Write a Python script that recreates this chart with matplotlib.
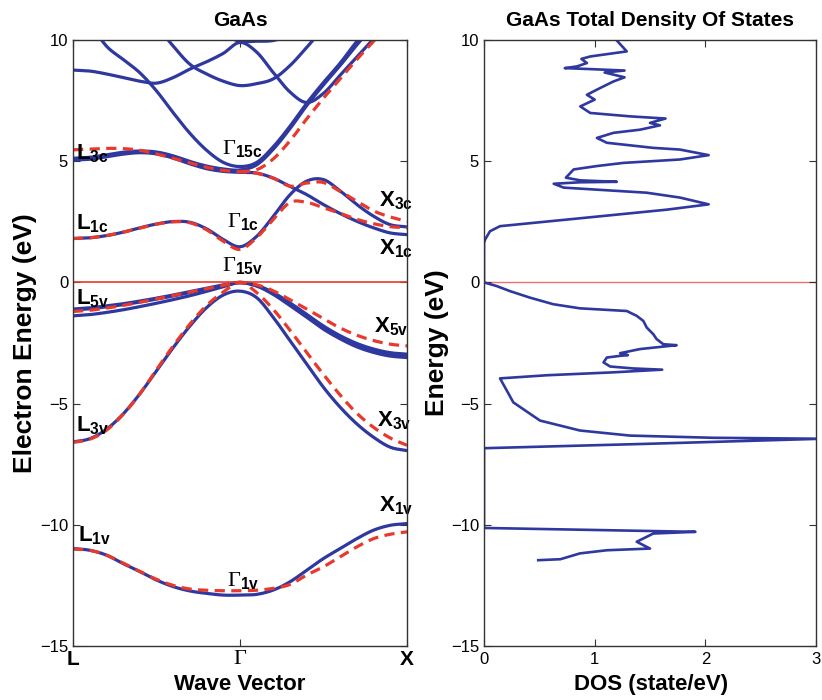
import numpy as np
import matplotlib
matplotlib.use("Agg")
import matplotlib.pyplot as plt

plt.rcParams['font.family'] = ['Liberation Sans', 'DejaVu Sans']
plt.rcParams['mathtext.fontset'] = 'custom'
plt.rcParams['mathtext.rm'] = 'Liberation Serif'
plt.rcParams['mathtext.bf'] = 'Liberation Sans:bold'
plt.rcParams['mathtext.it'] = 'Liberation Sans:italic'

nan = np.nan

# ---------------- band structure data (k: L=0, Gamma=1, X=2) ----------------
k_path = [0.0, 0.1, 0.2, 0.3, 0.4, 0.5, 0.6, 0.7, 0.8, 0.9, 1.0,
          1.1, 1.2, 1.3, 1.4, 1.5, 1.6, 1.7, 1.8, 1.9, 2.0]
k_ticks = [0.0, 1.0, 2.0]
k_tick_labels = ['L', 'Γ', 'X']

# blue (solid) bands
blue_v1 = [-10.98, -11.05, -11.25, -11.6, -11.93, -12.28, -12.55, -12.73, -12.83, -12.9, -12.9,
           -12.87, -12.69, -12.35, -11.87, -11.39, -10.98, -10.57, -10.22, -10.02, -9.95]
blue_v2 = [-6.58, -6.45, -6.06, -5.43, -4.6, -3.65, -2.69, -1.8, -1.04, -0.52, -0.36,
           -0.63, -1.45, -2.41, -3.37, -4.33, -5.15, -5.84, -6.39, -6.8, -6.94]
blue_v3 = [-1.1, -1.05, -0.97, -0.88, -0.77, -0.65, -0.52, -0.38, -0.24, -0.1, 0.0,
           -0.12, -0.42, -0.85, -1.32, -1.8, -2.2, -2.52, -2.75, -2.9, -2.96]
blue_v4 = [-1.14, -1.09, -1.01, -0.92, -0.81, -0.69, -0.56, -0.42, -0.28, -0.13, -0.02,
           -0.14, -0.46, -0.9, -1.37, -1.86, -2.26, -2.59, -2.82, -2.97, -3.03]
blue_v5 = [-1.38, -1.33, -1.24, -1.13, -1.0, -0.86, -0.71, -0.55, -0.37, -0.18, 0.0,
           -0.15, -0.5, -0.96, -1.44, -1.93, -2.33, -2.66, -2.89, -3.04, -3.1]
blue_c1 = [1.81, 1.84, 1.93, 2.07, 2.25, 2.41, 2.51, 2.48, 2.21, 1.77, 1.47,
           1.9, 2.73, 3.62, 4.18, 4.24, 3.77, 3.21, 2.73, 2.38, 2.29]
blue_c2 = [5.04, 5.08, 5.18, 5.29, 5.35, 5.3, 5.13, 4.89, 4.69, 4.58, 4.54,
           4.51, 4.3, 3.96, 3.62, 3.21, 2.84, 2.52, 2.25, 2.04, 1.97]
blue_c3 = [5.12, 5.16, 5.26, 5.37, 5.42, 5.38, 5.22, 4.99, 4.8, 4.68, 4.64,
           4.85, 5.5, 6.35, 7.3, 8.15, 8.95, 9.8, 10.6, nan, nan]
blue_c4 = [nan, 10.7, 9.75, 9.2, 8.65, 7.9, 7.0, 6.15, 5.45, 4.95, 4.78,
           4.95, 5.6, 6.45, 7.4, 8.25, 9.05, 9.95, 10.8, nan, nan]
blue_c5 = [8.76, 8.72, 8.6, 8.45, 8.3, 8.22, 8.45, 8.8, 9.1, 9.45, 9.9,
           9.5, 8.65, 7.85, 7.42, 7.8, 8.55, 9.3, 10.05, 10.8, nan]
blue_c6 = [nan, nan, nan, nan, nan, 10.6, 9.75, 9.0, 8.6, 8.3, 8.12,
           8.2, 8.4, 8.95, 9.7, 10.5, nan, nan, nan, nan, nan]
blue_c7 = [nan, nan, nan, nan, nan, nan, nan, nan, nan, 10.2, 9.95,
           9.95, 9.98, 10.2, nan, nan, nan, nan, nan, nan, nan]

# red (dashed) bands
red_v1 = [-11.0, -11.05, -11.25, -11.58, -11.92, -12.25, -12.5, -12.65, -12.7, -12.72, -12.72,
          -12.7, -12.62, -12.46, -12.07, -11.73, -11.32, -10.91, -10.57, -10.39, -10.29]
red_v2 = [-6.6, -6.47, -6.1, -5.45, -4.6, -3.6, -2.62, -1.72, -0.95, -0.4, 0.0,
          -0.42, -1.12, -1.98, -2.9, -3.8, -4.65, -5.4, -5.98, -6.42, -6.72]
red_v3 = [-1.2, -1.15, -1.06, -0.95, -0.82, -0.68, -0.54, -0.4, -0.26, -0.12, 0.0,
          -0.1, -0.35, -0.72, -1.1, -1.5, -1.88, -2.18, -2.4, -2.55, -2.62]
red_c1 = [1.81, 1.84, 1.93, 2.07, 2.24, 2.4, 2.5, 2.46, 2.17, 1.7, 1.36,
          1.85, 2.6, 3.3, 3.3, 3.08, 2.85, 2.6, 2.42, 2.3, 2.25]
red_c2 = [5.47, 5.5, 5.53, 5.52, 5.45, 5.3, 5.12, 4.93, 4.75, 4.62, 4.57,
          4.5, 4.3, 3.97, 4.1, 4.12, 3.75, 3.35, 2.95, 2.7, 2.52]
red_c3 = [nan, nan, nan, nan, nan, nan, nan, nan, nan, nan, 4.57,
          4.65, 5.1, 5.85, 6.75, 7.6, 8.4, 9.2, 9.95, 10.7, nan]

blue_bands = [blue_v1, blue_v2, blue_v3, blue_v4, blue_v5, blue_c1, blue_c2,
              blue_c3, blue_c4, blue_c5, blue_c6, blue_c7]
red_bands = [red_v1, red_v2, red_v3, red_c1, red_c2, red_c3]

# symmetry point labels: (main, subscript, k, E)
point_labels = [
    ('L', '3c', 0.02, 5.06), ('L', '1c', 0.02, 2.18), ('L', '5v', 0.02, -0.9),
    ('L', '3v', 0.02, -6.13), ('L', '1v', 0.03, -10.69),
    ('Γ', '15c', 0.89, 5.26), ('Γ', '1c', 0.92, 2.26), ('Γ', '15v', 0.89, 0.45),
    ('Γ', '1v', 0.92, -12.54),
    ('X', '3c', 1.83, 3.13), ('X', '1c', 1.83, 1.15), ('X', '5v', 1.80, -2.06),
    ('X', '3v', 1.82, -5.92), ('X', '1v', 1.83, -9.46),
]

# ---------------- density of states data ----------------
dos_val = [1.20, 1.29, 0.96, 0.88, 0.93, 0.84, 0.73, 0.96, 1.27, 1.09, 1.27, 1.17, 1.05, 0.93,
           1.0, 0.87, 0.96, 1.32, 1.64, 1.5, 1.59, 1.41, 1.17, 1.02, 1.11, 1.53, 1.77, 2.03,
           1.77, 1.26, 1.02, 0.81, 0.74, 0.87, 1.2, 0.87, 0.63, 0.72, 1.47, 1.77, 2.03,
           1.65, 0.9, 0.145, 0.054, 0.01, 0.0, 0.0,
           0.114, 0.235, 0.416, 0.626, 0.867, 1.29, 1.38, 1.44, 1.47, 1.53, 1.56, 1.62, 1.74,
           1.41, 1.23, 1.30, 1.23, 1.11, 1.08, 1.14, 1.35, 1.61, 1.17, 0.57, 0.145,
           0.265, 0.506, 0.867, 1.32, 2.07, 3.05, 1.47, 0.0, 0.0,
           1.91, 1.53, 1.38, 1.50, 1.11, 0.867, 0.69, 0.49]
dos_E = [9.98, 9.53, 9.32, 9.22, 9.05, 8.91, 8.84, 8.8, 8.74, 8.66, 8.46, 8.29, 8.02, 7.74,
         7.54, 7.26, 6.99, 6.85, 6.76, 6.58, 6.48, 6.3, 6.17, 5.96, 5.76, 5.55, 5.48, 5.25,
         5.07, 4.93, 4.8, 4.66, 4.32, 4.21, 4.15, 4.13, 4.07, 3.91, 3.7, 3.5, 3.22,
         3.0, 2.66, 2.32, 2.11, 1.77, 1.63, 0.0,
         -0.15, -0.36, -0.63, -0.9, -1.07, -1.18, -1.38, -1.59, -1.86, -2.14, -2.34, -2.55, -2.59,
         -2.75, -2.92, -3.0, -3.03, -3.10, -3.30, -3.47, -3.55, -3.60, -3.71, -3.83, -3.96,
         -4.95, -5.70, -6.11, -6.32, -6.41, -6.45, -6.66, -6.84, -10.13,
         -10.29, -10.36, -10.7, -10.98, -11.05, -11.18, -11.42, -11.46]

BLUE = '#2f389f'
RED = '#e8392b'


def smooth_path(x, y, n=10):
    """Render a curve through the read points with a Catmull-Rom spline (drawing only)."""
    x = np.asarray(x, float)
    y = np.asarray(y, float)
    ok = np.isfinite(y)
    xs_out, ys_out = [], []
    i = 0
    while i < len(y):
        if not ok[i]:
            i += 1
            continue
        j = i
        while j < len(y) and ok[j]:
            j += 1
        px, py = x[i:j], y[i:j]
        if len(px) == 1:
            xs_out += [px[0], nan]
            ys_out += [py[0], nan]
        else:
            P = np.column_stack([px, py])
            P = np.vstack([2 * P[0] - P[1], P, 2 * P[-1] - P[-2]])
            t = np.linspace(0, 1, n, endpoint=False)
            for s in range(1, len(P) - 2):
                p0, p1, p2, p3 = P[s - 1], P[s], P[s + 1], P[s + 2]
                for tt in t:
                    c = 0.5 * ((2 * p1) + (-p0 + p2) * tt +
                               (2 * p0 - 5 * p1 + 4 * p2 - p3) * tt ** 2 +
                               (-p0 + 3 * p1 - 3 * p2 + p3) * tt ** 3)
                    xs_out.append(c[0])
                    ys_out.append(c[1])
            xs_out += [P[-2][0], nan]
            ys_out += [P[-2][1], nan]
        i = j
    return xs_out, ys_out


fig = plt.figure(figsize=(8.22, 7.0), dpi=100)
ax_bottom = 1 - 646 / 700
ax_height = 606 / 700
ax1 = fig.add_axes([73/822, ax_bottom, 334/822, ax_height])
ax2 = fig.add_axes([484/822, ax_bottom, 332/822, ax_height])

for ax in (ax1, ax2):
    ax.tick_params(direction='in', length=5, width=0.8, top=True, right=True,
                   color='#333333')
    ax.tick_params(axis='y', labelsize=12)
    ax.tick_params(axis='x', pad=3)
    for sp in ax.spines.values():
        sp.set_color('#333333')
        sp.set_linewidth(1.0)
        sp.set_zorder(6)
ax2.tick_params(axis='x', labelsize=12, pad=4)

# ---- band structure ----
for b in blue_bands:
    sx, sy = smooth_path(k_path, b)
    ax1.plot(sx, sy, color=BLUE, lw=2.3, solid_capstyle='round', zorder=2)
for b in red_bands:
    sx, sy = smooth_path(k_path, b)
    ax1.plot(sx, sy, color=RED, lw=2.3, linestyle=(0, (3.2, 2.0)), zorder=3)
ax1.axhline(0, color=RED, lw=1.2, zorder=4)

ax1.set_xlim(0, 2)
ax1.set_ylim(-15, 10)
ax1.set_yticks([-15, -10, -5, 0, 5, 10])
ax1.set_xticks(k_ticks)
xl = ax1.set_xticklabels(k_tick_labels, fontsize=15, fontweight='bold')
xl[1].set_family('Liberation Serif')
xl[1].set_fontweight('normal')
xl[1].set_fontsize(16)
ax1.set_title('GaAs', fontsize=15, fontweight='bold', pad=10)
ax1.set_ylabel('Electron Energy (eV)', fontsize=19, fontweight='bold')
ax1.yaxis.set_label_coords(-0.108, 0.5)
ax1.set_xlabel('Wave Vector', fontsize=16, fontweight='bold')
ax1.xaxis.set_label_coords(0.5, -0.046)

for main, sub, kx, ey in point_labels:
    if main == 'Γ':
        s = r'$\mathrm{\Gamma}_{\mathbf{%s}}$' % sub
    else:
        s = r'$\mathbf{%s}_{\mathbf{%s}}$' % (main, sub)
    ax1.text(kx, ey, s, fontsize=16, ha='left', va='baseline', zorder=5)

# ---- DOS ----
ax2.plot(dos_val, dos_E, color=BLUE, lw=1.9, zorder=2)
ax2.axhline(0, color='#f07070', lw=1.0, zorder=1)
ax2.set_xlim(0, 3)
ax2.set_ylim(-15, 10)
ax2.set_xticks([0, 1, 2, 3])
ax2.set_yticks([-15, -10, -5, 0, 5, 10])
ax2.set_title('GaAs Total Density Of States', fontsize=15, fontweight='bold', pad=10)
ax2.set_ylabel('Energy (eV)', fontsize=19, fontweight='bold')
ax2.yaxis.set_label_coords(-0.105, 0.5)
ax2.set_xlabel('DOS (state/eV)', fontsize=16, fontweight='bold')
ax2.xaxis.set_label_coords(0.503, -0.046)

fig.savefig('out.png', dpi=100)
